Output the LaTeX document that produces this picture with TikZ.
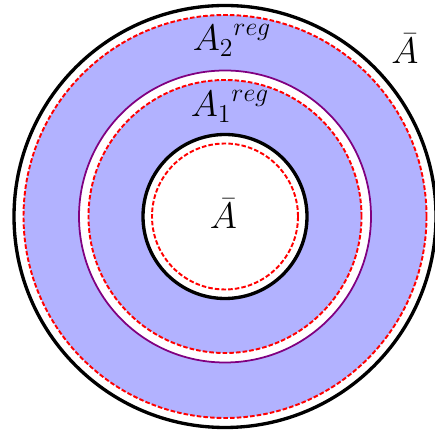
\RequirePackage{fix-cm}
\documentclass[tikz,border=0pt]{standalone}
\usepackage{amsmath,amssymb}
\usepackage{xcolor}
\usepackage{tikz}

\definecolor{ringpurple}{RGB}{128,0,128}

\begin{document}
\begin{tikzpicture}[
  x=0.02cm, y=0.02cm,
  font=\fontsize{21}{24}\selectfont,
  region/.style={fill=blue!30, even odd rule},
  bound/.style={draw=black, line width=1.9pt},
  cut/.style={draw=red, line width=1.1pt, dash pattern=on 2.6pt off 1.2pt},
  sep/.style={draw=ringpurple, line width=1pt},
  lbl/.style={inner sep=0pt}
]
\useasboundingbox (0,0) rectangle (435,435);
\coordinate (c) at (225,218.5);

% shaded regions
\fill[region] (c) circle[radius=201.5] (c) circle[radius=146];
\fill[region] (c) circle[radius=136.5] (c) circle[radius=82];

\draw[bound] (c) circle[radius=211];
\draw[cut]   (c) circle[radius=201.5];
\draw[sep]   (c) circle[radius=146];
\draw[cut]   (c) circle[radius=136.5];
\draw[bound] (c) circle[radius=82];
\draw[cut]   (c) circle[radius=73];

\node[lbl] (a2)   at (232,394.5) {${A_2}^{reg}$};
\node[lbl] (a1)   at (230,328.5) {${A_1}^{reg}$};
\node[lbl] (abar) at (223.5,221.5) {$\bar{A}$};
\node[lbl] (aout) at (405,386.5) {$\bar{A}$};
\end{tikzpicture}
\end{document}
